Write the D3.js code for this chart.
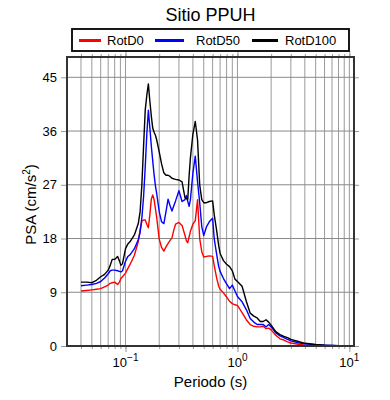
<!DOCTYPE html>
<html>
<head>
<meta charset="utf-8">
<script src="https://cdn.jsdelivr.net/npm/d3@7"></script>
<style>
  body { margin: 0; background: #fff; }
  text { font-family: "Liberation Sans", Arial, sans-serif; }
</style>
</head>
<body>
<div id="chart"></div>
<script>
// periods (s)
const periods = [0.04, 0.045, 0.05, 0.055, 0.06, 0.065, 0.07, 0.073, 0.076, 0.08,
  0.085, 0.088, 0.091, 0.094, 0.1, 0.105, 0.11, 0.12, 0.13, 0.135,
  0.14, 0.145, 0.15, 0.155, 0.16, 0.165, 0.17, 0.175, 0.18, 0.185,
  0.19, 0.2, 0.21, 0.22, 0.23, 0.24, 0.25, 0.26, 0.27, 0.28,
  0.3, 0.32, 0.34, 0.35, 0.36, 0.37, 0.38, 0.4, 0.42, 0.44,
  0.46, 0.48, 0.5, 0.53, 0.56, 0.6, 0.62, 0.65, 0.68, 0.7,
  0.75, 0.8, 0.85, 0.9, 0.95, 1.0, 1.1, 1.2, 1.3, 1.4,
  1.5, 1.6, 1.7, 1.8, 1.9, 2.0, 2.2, 2.4, 2.6, 2.8,
  3.0, 3.5, 4, 5, 6, 7, 8, 10];

const rotD0 = [9.2, 9.3, 9.4, 9.5, 9.6, 9.9, 10.2, 10.5, 10.6, 10.7,
  10.3, 10.7, 11.3, 11.6, 12.2, 13.0, 13.7, 15.2, 17.5, 19.5,
  20.9, 21.1, 21.1, 20.4, 19.8, 22.0, 24.6, 25.3, 24.5, 23.0,
  21.5, 17.9, 16.5, 15.9, 16.6, 17.2, 17.7, 18.1, 19.4, 20.4,
  20.7, 20.2, 18.5, 17.6, 17.3, 18.3, 19.2, 20.4, 21.0, 24.5,
  18.0, 15.8, 14.9, 15.0, 15.1, 15.0, 13.5, 11.5, 10.0, 9.5,
  8.9, 8.2, 7.5, 7.1, 6.9, 6.8, 5.6, 4.4, 3.6, 3.3,
  3.2, 3.2, 3.3, 2.9, 3.0, 2.7, 1.8, 1.2, 1.0, 0.7,
  0.5, 0.3, 0.15, 0.08, 0.05, 0.04, 0.03, 0.02];

const rotD50 = [10.1, 10.2, 10.3, 10.5, 10.8, 11.4, 12.1, 12.6, 12.7, 12.7,
  12.6, 12.5, 12.4, 12.6, 14.2, 15.0, 15.3, 16.3, 17.8, 19.0,
  21.5, 25.0, 30.0, 35.5, 39.5, 36.5, 33.5, 31.0, 28.7, 26.8,
  25.5, 22.5, 20.8, 20.5, 22.5, 24.6, 23.5, 22.6, 23.5, 24.3,
  26.0, 24.2, 24.5, 25.2, 24.2, 23.4, 24.5, 29.0, 31.8, 27.5,
  24.0, 20.0, 18.5, 20.0, 20.8, 21.4, 18.0, 15.5, 13.3, 12.5,
  11.3, 10.4, 9.6, 10.2, 9.2, 8.3, 7.4, 6.1, 4.6, 4.0,
  3.6, 3.6, 3.6, 3.2, 3.6, 3.2, 2.2, 1.7, 1.4, 1.1,
  0.85, 0.55, 0.35, 0.2, 0.12, 0.08, 0.06, 0.04];

const rotD100 = [10.7, 10.7, 10.6, 11.0, 11.6, 12.0, 12.7, 13.5, 14.5, 14.5,
  15.0, 14.3, 13.5, 13.8, 16.3, 17.1, 17.5, 18.6, 20.5, 22.5,
  27.0, 33.5, 39.5, 42.0, 43.9, 41.0, 38.5, 36.5, 35.8, 35.3,
  34.5, 32.5, 30.5, 29.0, 28.6, 28.6, 28.4, 28.1, 28.0, 27.9,
  27.8, 27.5, 24.8, 24.7, 24.6, 28.5, 31.5, 35.5, 37.6, 34.5,
  27.0, 24.5, 24.0, 24.0, 24.2, 24.3, 22.0, 19.5, 16.8, 15.5,
  14.3, 13.7, 13.3, 12.6, 11.2, 10.8, 10.0, 7.5, 5.5, 5.0,
  4.7, 4.1, 4.1, 4.4, 4.0, 3.5, 2.4, 1.9, 1.6, 1.4,
  1.1, 0.75, 0.45, 0.25, 0.15, 0.1, 0.07, 0.05];

const seriesNames = ["RotD0", "RotD50", "RotD100"];
const seriesColors = ["#ff0000", "#0000ff", "#000000"];
const yTicks = [0, 9, 18, 27, 36, 45];
const xDecades = [0.1, 1, 10];

const width = 390, height = 400;
const margin = {top: 57, right: 36, bottom: 54, left: 67};
const w = width - margin.left - margin.right;
const h = height - margin.top - margin.bottom;

const svgRoot = d3.select("#chart").append("svg")
    .attr("width", width)
    .attr("height", height);

let svg = svgRoot.append("g")
    .attr("transform", `translate(${margin.left}, ${margin.top})`);

let x = d3.scaleLog().domain([0.03, 11]).range([0, w]);
let y = d3.scaleLinear().domain([0, 48.4]).range([h, 0]);

// every minor position for log grid
let minor = [];
[0.01, 0.1, 1, 10].forEach(function(d) {
    for (let k = 1; k < 10; k++) {
        let v = d * k;
        if (v > 0.03 && v <= 11) minor.push(v);
    }
});

// grid
svg.append("g")
    .selectAll("line")
    .data(minor)
    .enter().append("line")
    .attr("x1", d => x(d)).attr("x2", d => x(d))
    .attr("y1", 0).attr("y2", h)
    .attr("stroke", "#9a9a9a")
    .attr("stroke-width", 1);

svg.append("g")
    .selectAll("line")
    .data(yTicks.slice(1))
    .enter().append("line")
    .attr("x1", 0).attr("x2", w)
    .attr("y1", d => y(d)).attr("y2", d => y(d))
    .attr("stroke", "#8a8a8a")
    .attr("stroke-width", 1);

// tick marks on the outside of the frame
function tickStyle(g) {
    g.select(".domain").remove();
    g.selectAll(".tick line").attr("stroke", "#999").attr("stroke-width", 1);
}

svg.append("g")
    .attr("transform", `translate(0, ${h})`)
    .call(d3.axisBottom(x).tickValues(minor).tickSize(3).tickFormat(""))
    .call(tickStyle);
svg.append("g")
    .call(d3.axisTop(x).tickValues(minor).tickSize(3).tickFormat(""))
    .call(tickStyle);
svg.append("g")
    .attr("transform", `translate(0, ${h})`)
    .call(d3.axisBottom(x).tickValues(xDecades).tickSize(6).tickFormat(""))
    .call(tickStyle);
svg.append("g")
    .call(d3.axisTop(x).tickValues(xDecades).tickSize(6).tickFormat(""))
    .call(tickStyle);

let yAxis = svg.append("g")
    .call(d3.axisLeft(y).tickValues(yTicks).tickSize(6).tickPadding(4))
    .call(tickStyle);
yAxis.selectAll(".tick text")
    .style("font-size", "13px")
    .attr("fill", "#000");

svg.append("g")
    .attr("transform", `translate(${w}, 0)`)
    .call(d3.axisRight(y).tickValues(yTicks).tickSize(5).tickFormat(""))
    .call(tickStyle);

// x tick labels with exponents
const exps = ["\u22121", "0", "1"];
let xl = svg.append("g")
    .selectAll("text")
    .data(xDecades)
    .enter().append("text")
    .attr("x", d => x(d))
    .attr("y", h + 21)
    .attr("text-anchor", "middle")
    .style("font-size", "13px");
xl.append("tspan").text("10");
xl.append("tspan")
    .attr("dy", -6)
    .style("font-size", "10px")
    .text((d, i) => exps[i]);

// curves
const allSeries = [rotD0, rotD50, rotD100];
let line = d3.line()
    .x(d => x(d.t))
    .y(d => y(d.v));

allSeries.forEach(function(vals, i) {
    let pts = periods.map((t, j) => ({t: t, v: vals[j]}));
    svg.append("path")
        .datum(pts)
        .attr("fill", "none")
        .attr("stroke", seriesColors[i])
        .attr("stroke-width", 1.4)
        .attr("stroke-linejoin", "round")
        .attr("d", line);
});

// frame
svg.append("rect")
    .attr("x", 0).attr("y", 0)
    .attr("width", w).attr("height", h)
    .attr("fill", "none")
    .attr("stroke", "#333")
    .attr("stroke-width", 2);

// title
svgRoot.append("text")
    .attr("x", margin.left + w / 2)
    .attr("y", 21)
    .attr("text-anchor", "middle")
    .style("font-size", "18px")
    .text("Sitio PPUH");

// legend
let legend = svgRoot.append("g");
legend.append("rect")
    .attr("x", 72).attr("y", 29)
    .attr("width", 277).attr("height", 22)
    .attr("fill", "#fff")
    .attr("stroke", "#000")
    .attr("stroke-width", 1.8);

const legendX = [79, 155, 252];
const legendLen = [22, 29, 26];
const legendTextX = [107, 196, 285];
seriesNames.forEach(function(name, i) {
    legend.append("line")
        .attr("x1", legendX[i]).attr("x2", legendX[i] + legendLen[i])
        .attr("y1", 40.5).attr("y2", 40.5)
        .attr("stroke", seriesColors[i])
        .attr("stroke-width", 3);
    legend.append("text")
        .attr("x", legendTextX[i])
        .attr("y", 45)
        .style("font-size", "13px")
        .text(name);
});

// axis labels
svgRoot.append("text")
    .attr("x", margin.left + w / 2)
    .attr("y", 387)
    .attr("text-anchor", "middle")
    .style("font-size", "15px")
    .text("Periodo (s)");

let yl = svgRoot.append("text")
    .attr("transform", `translate(36, ${margin.top + h / 2 + 3}) rotate(-90)`)
    .attr("text-anchor", "middle")
    .style("font-size", "15px");
yl.append("tspan").text("PSA (cm/s");
yl.append("tspan").attr("dy", -6).style("font-size", "10px").text("2");
yl.append("tspan").attr("dy", 6).text(")");
</script>
</body>
</html>
